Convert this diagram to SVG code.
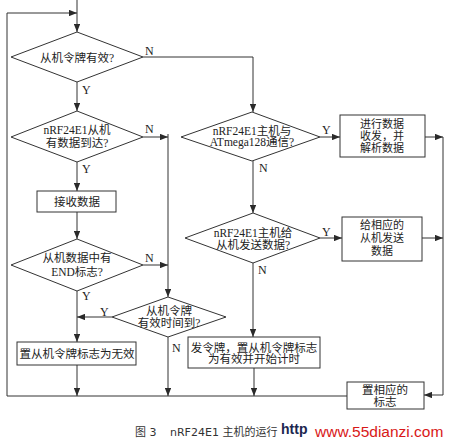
<svg xmlns="http://www.w3.org/2000/svg" width="450" height="443" viewBox="0 0 450 443">
<style>
.s{fill:#fff;stroke:#333;stroke-width:1}
.c{fill:none;stroke:#333;stroke-width:1}
.t{font-family:"Liberation Serif","Noto Sans CJK SC",serif;font-size:11.5px;fill:#222;text-anchor:middle}
.sm{font-size:11px}
.l{font-family:"Liberation Serif","Noto Sans CJK SC",serif;font-size:12px;fill:#222}
.cap{font-family:"DejaVu Sans","Noto Sans CJK SC",sans-serif;font-size:11px;fill:#333}
</style>
<defs>
<marker id="a" viewBox="0 0 10 8" refX="10" refY="4" markerWidth="8" markerHeight="6.5" markerUnits="userSpaceOnUse" orient="auto">
<path d="M0,0L10,4L0,8z" fill="#2a2a2a"/>
</marker>
</defs>
<rect width="450" height="443" fill="#fff"/>
<g id="connectors">
<path class="c" d="M77,0V32" marker-end="url(#a)"/>
<path class="c" d="M347,396H7V13H77" marker-end="url(#a)"/>
<path class="c" d="M143,57H253V112" marker-end="url(#a)"/>
<path class="c" d="M77,82V111" marker-end="url(#a)"/>
<path class="c" d="M143,137H168" marker-end="url(#a)"/>
<path class="c" d="M168,134V297" marker-end="url(#a)"/>
<path class="c" d="M77,162V191" marker-end="url(#a)"/>
<path class="c" d="M77,212V239" marker-end="url(#a)"/>
<path class="c" d="M143,265H168" marker-end="url(#a)"/>
<path class="c" d="M77,291V342" marker-end="url(#a)"/>
<path class="c" d="M112,317H77" marker-end="url(#a)"/>
<path class="c" d="M168,337V396" marker-end="url(#a)"/>
<path class="c" d="M77,365V396" marker-end="url(#a)"/>
<path class="c" d="M254,368V396" marker-end="url(#a)"/>
<path class="c" d="M320,137H340" marker-end="url(#a)"/>
<path class="c" d="M253,161V213" marker-end="url(#a)"/>
<path class="c" d="M425,137H443" marker-end="url(#a)"/>
<path class="c" d="M320,238H342" marker-end="url(#a)"/>
<path class="c" d="M422,238H443" marker-end="url(#a)"/>
<path class="c" d="M443,137V395H424" marker-end="url(#a)"/>
<path class="c" d="M253,263V337" marker-end="url(#a)"/>
<text class="l" x="145" y="55">N</text>
<text class="l" x="82" y="94">Y</text>
<text class="l" x="145" y="133">N</text>
<text class="l" x="82" y="173">Y</text>
<text class="l" x="145" y="262">N</text>
<text class="l" x="82" y="300">Y</text>
<text class="l" x="100" y="316">Y</text>
<text class="l" x="172" y="352">N</text>
<text class="l" x="322" y="134">Y</text>
<text class="l" x="259" y="172">N</text>
<text class="l" x="322" y="236">Y</text>
<text class="l" x="258" y="274">N</text>
</g>
<g id="d1">
<path class="s" d="M77,32L143,57L77,82L11,57z"/>
<text class="t" x="77" y="62">从机令牌有效?</text>
</g>
<g id="d2">
<path class="s" d="M77,111L143,137L77,162L11,137z"/>
<text class="t" x="77" y="134">nRF24E1从机</text>
<text class="t" x="77" y="147">有数据到达?</text>
</g>
<g id="b_recv">
<rect class="s" x="37" y="191" width="79" height="21"/>
<text class="t" x="77" y="206">接收数据</text>
</g>
<g id="d4">
<path class="s" d="M77,239L143,265L77,291L11,265z"/>
<text class="t" x="77" y="262">从机数据中有</text>
<text class="t" x="77" y="276">END标志?</text>
</g>
<g id="d5">
<path class="s" d="M168,297L226,317L168,337L112,317z"/>
<text class="t" x="169" y="315">从机令牌</text>
<text class="t" x="169" y="327">有效时间到?</text>
</g>
<g id="b_invalid">
<rect class="s" x="17" y="342" width="119" height="23"/>
<text class="t" x="77" y="358">置从机令牌标志为无效</text>
</g>
<g id="d3">
<path class="s" d="M252,112L320,137L252,161L181,137z"/>
<text class="t" x="252" y="135">nRF24E1主机与</text>
<text class="t" x="252" y="146">ATmega128通信?</text>
</g>
<g id="b_parse">
<rect class="s" x="340" y="115" width="85" height="42"/>
<text class="t sm" x="382" y="128">进行数据</text>
<text class="t sm" x="382" y="140">收发，并</text>
<text class="t sm" x="382" y="152">解析数据</text>
</g>
<g id="d6">
<path class="s" d="M253,213L320,238L253,263L185,238z"/>
<text class="t" x="253" y="237">nRF24E1主机给</text>
<text class="t" x="253" y="249">从机发送数据?</text>
</g>
<g id="b_send">
<rect class="s" x="342" y="217" width="80" height="44"/>
<text class="t sm" x="382" y="229">给相应的</text>
<text class="t sm" x="382" y="242">从机发送</text>
<text class="t sm" x="382" y="255">数据</text>
</g>
<g id="b_token">
<rect class="s" x="188" y="337" width="132" height="31"/>
<text class="t" x="254" y="352">发令牌，置从机令牌标志</text>
<text class="t" x="254" y="363">为有效并开始计时</text>
</g>
<g id="b_flag">
<rect class="s" x="347" y="382" width="77" height="27"/>
<text class="t" x="385" y="394">置相应的</text>
<text class="t" x="385" y="406">标志</text>
</g>
<g id="caption">
<text class="cap" x="135" y="436">图 3</text>
<text class="cap" x="170" y="436">nRF24E1 主机的运行</text>
<text x="281" y="434" font-family="'Liberation Sans',sans-serif" font-size="14" font-weight="bold" fill="#1c2750">http</text>
<text x="315" y="437" font-family="'Liberation Sans',sans-serif" font-size="15.5" fill="#d81818">www.55dianzi.com</text>
</g>
</svg>
